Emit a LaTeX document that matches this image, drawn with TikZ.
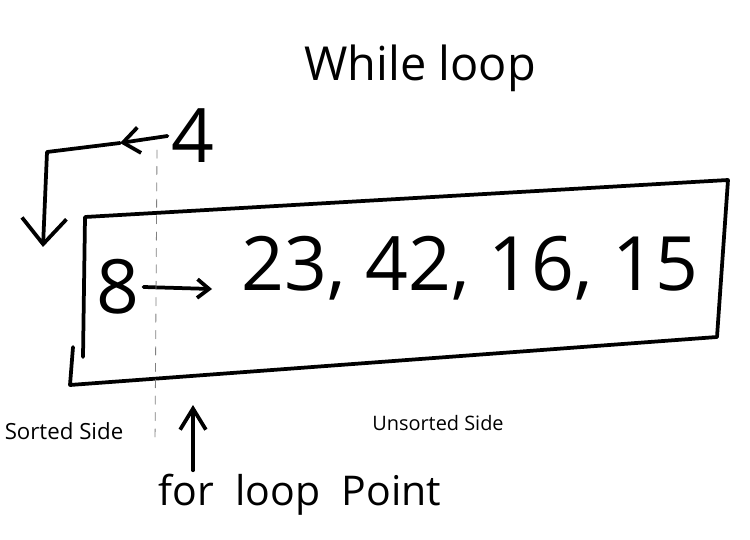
\documentclass[tikz,border=0pt]{standalone}
\usepackage{fontspec}
\setmainfont{Open Sans}
\usetikzlibrary{arrows.meta}

\begin{document}
\begin{tikzpicture}[x=0.03cm, y=-0.03cm, line cap=round, line join=round,
		pen/.style={line width=3.2pt},
		divider/.style={line width=0.7pt, gray, dash pattern=on 7pt off 7pt},
		hand/.style={font=\fontsize{40}{40}\selectfont},
		big/.style={font=\fontsize{64}{64}\selectfont},
		note/.style={font=\fontsize{17}{17}\selectfont}]
		\useasboundingbox (0,0) rectangle (750,540);
		
		% Title
		\node[hand] (title) at (420,68) {While loop};
		
		% Array box
		\draw[pen] (73,347) -- (70,385) -- (717,337) -- (728,180) -- (85,217) -- (83,357);
		
		% Contents
		\node[big] (eight) at (118,287) {8};
		\node[big] (nums) at (470,268) {23, 42, 16, 15};
		\coordinate (next) at (212,289);
		\draw[pen, -{Straight Barb[length=10pt,width=16pt]}] (eight.east) -- (next);
		
		% Divider between sides
		\draw[divider] (157,150) -- (155,445);
		
		% Value 4 going back
		\node[big] (four) at (193,136) {4};
		\coordinate (back) at (120,143);
		\coordinate (turn) at (47,152);
		\coordinate (drop) at (43,247);
		\draw[pen, -{Straight Barb[length=14pt,width=22pt]}] (four.west) -- (back);
		\draw[pen, -{Straight Barb[length=22pt,width=38pt]}] (back) -- (turn) -- (drop);
		
		% Side labels
		\node[note, font=\fontsize{19}{19}\selectfont] (sorted) at (64,431) {Sorted Side};
		\node[note] (unsorted) at (438,423) {Unsorted Side};
		
		% For loop pointer
		\node[hand, font=\fontsize{35}{35}\selectfont] (forloop) at (300,495) {for\ \ loop\ \ Point};
		\coordinate (ptr) at (193,405);
		\draw[pen, -{Straight Barb[length=18pt,width=22pt]}] (forloop.north -| ptr) -- (ptr);
		
	\end{tikzpicture}
\end{document}
